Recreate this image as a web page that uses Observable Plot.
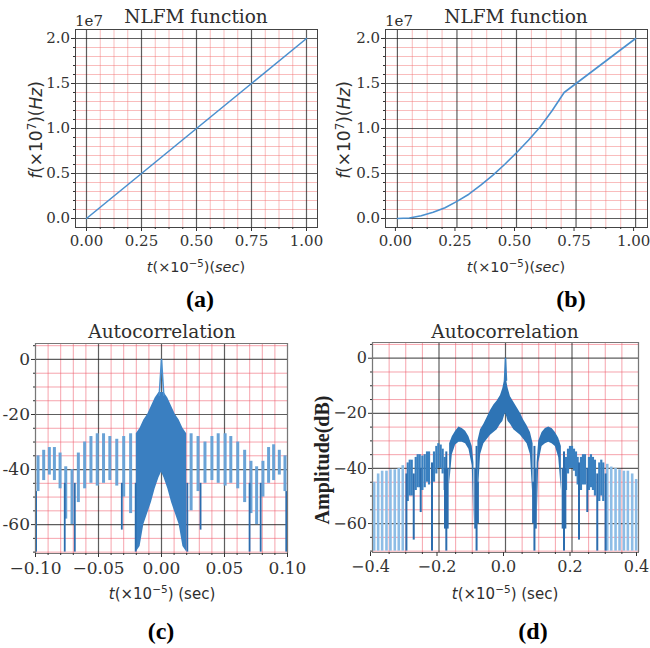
<!DOCTYPE html>
<html><head><meta charset="utf-8">
<script src="https://cdn.jsdelivr.net/npm/d3@7"></script>
<script src="https://cdn.jsdelivr.net/npm/@observablehq/plot@0.6"></script>
<style>
body{margin:0;background:#fff;}
#root{position:relative;width:650px;height:648px;overflow:hidden;background:#fff;}
.p{position:absolute;}
.t{position:absolute;transform:translate(-50%,-50%);white-space:nowrap;color:#2e2e2e;line-height:1;}
.rot{transform:translate(-50%,-50%) rotate(-90deg);}
.ttl{font-family:"DejaVu Serif",serif;font-size:18.5px;}
.lab{font-family:"DejaVu Sans",sans-serif;}
.cap{font-family:"Liberation Serif","Times New Roman",serif;font-weight:bold;font-size:24px;color:#000;}
.amp{font-family:"Liberation Serif","Times New Roman",serif;font-weight:bold;font-size:20px;color:#222;}
.off{position:absolute;transform:translate(0,-50%);font-family:"DejaVu Serif",serif;font-size:15px;color:#2e2e2e;line-height:1;}
sup{font-size:0.7em;vertical-align:0.5em;line-height:0;}
</style></head><body>
<div id="root">
  <div class="t ttl" style="left:196px;top:17px">NLFM function</div>
  <div class="t ttl" style="left:516px;top:17px">NLFM function</div>
  <div class="off" style="left:75px;top:21px">1e7</div>
  <div class="off" style="left:385px;top:21px">1e7</div>
  <div class="t lab rot" style="left:36px;top:130px;font-size:17px"><i>f</i>(×10<sup>7</sup>)(<i>Hz</i>)</div>
  <div class="t lab rot" style="left:344px;top:130px;font-size:17px"><i>f</i>(×10<sup>7</sup>)(<i>Hz</i>)</div>
  <div class="t lab" style="left:196px;top:267px;font-size:14.5px"><i>t</i>(×10<sup>−5</sup>)(<i>sec</i>)</div>
  <div class="t lab" style="left:516px;top:267px;font-size:14.5px"><i>t</i>(×10<sup>−5</sup>)(<i>sec</i>)</div>
  <div class="t cap" style="left:200px;top:299px">(a)</div>
  <div class="t cap" style="left:571px;top:299px">(b)</div>
  <div class="t ttl" style="left:162px;top:332px">Autocorrelation</div>
  <div class="t ttl" style="left:505px;top:332px">Autocorrelation</div>
  <div class="t lab" style="left:162px;top:594px;font-size:15px"><i>t</i>(×10<sup>−5</sup>) (sec)</div>
  <div class="t lab" style="left:505px;top:594px;font-size:15px"><i>t</i>(×10<sup>−5</sup>) (sec)</div>
  <div class="t amp rot" style="left:322px;top:460px">Amplitude(dB)</div>
  <div class="t cap" style="left:161px;top:631px">(c)</div>
  <div class="t cap" style="left:533px;top:631px">(d)</div>
</div>
<script>
// ---------- panel (a): linear FM ----------
const timeA = [0, 0.25, 0.5, 0.75, 1.0];
const freqA = [0, 0.5, 1.0, 1.5, 2.0];
// ---------- panel (b): nonlinear FM ----------
const timeB = [0, 0.05, 0.1, 0.15, 0.2, 0.25, 0.3, 0.35, 0.4, 0.45, 0.5, 0.55, 0.6, 0.65, 0.7, 0.75, 0.8, 0.85, 0.9, 0.95, 1.0];
const freqB = [0, 0.006, 0.03, 0.07, 0.12, 0.19, 0.27, 0.37, 0.48, 0.6, 0.73, 0.87, 1.02, 1.2, 1.4, 1.5, 1.6, 1.7, 1.8, 1.9, 2.0];

// ticks
const xTicksAB = [0, 0.25, 0.5, 0.75, 1.0];
const xMinorAB = [0.0625, 0.125, 0.1875, 0.3125, 0.375, 0.4375, 0.5625, 0.625, 0.6875, 0.8125, 0.875, 0.9375];
const yTicksAB = [0, 0.5, 1.0, 1.5, 2.0];
const yMinorAB = [0.1, 0.2, 0.3, 0.4, 0.6, 0.7, 0.8, 0.9, 1.1, 1.2, 1.3, 1.4, 1.6, 1.7, 1.8, 1.9];
const xTicksC = [-0.1, -0.05, 0, 0.05, 0.1];
const xMinorC = [-0.09, -0.08, -0.07, -0.06, -0.04, -0.03, -0.02, -0.01, 0.01, 0.02, 0.03, 0.04, 0.06, 0.07, 0.08, 0.09];
const xTicksD = [-0.4, -0.2, 0, 0.2, 0.4];
const xMinorD = [-0.35, -0.3, -0.25, -0.15, -0.1, -0.05, 0.05, 0.1, 0.15, 0.25, 0.3, 0.35];
const yTicksCD = [0, -20, -40, -60];
const yMinorCD = [5, -5, -10, -15, -25, -30, -35, -45, -50, -55, -65, -70];

// ---------- panel (c): autocorrelation (dB) ----------
const cBandX  = [-0.02, -0.017, -0.014, -0.011, -0.008, -0.005, -0.002, 0, 0.002, 0.005, 0.008, 0.011, 0.014, 0.017, 0.02];
const cBandHi = [-27, -25, -22, -20, -17, -14, -12, -12, -12, -14, -17, -20, -22, -25, -27];
const cBandLo = [-70, -68, -60, -56, -52, -47, -43, -41, -43, -47, -52, -56, -60, -68, -70];
const cSpikeX = [-0.0018, 0, 0.0018];
const cSpikeY = [-13, 0, -13];
const cBarX   = [-0.098, -0.0935, -0.089, -0.085, -0.0805, -0.076, -0.071, -0.066, -0.061, -0.056, -0.051, -0.046, -0.041, -0.0355, -0.030, -0.0245,
                 0.0235, 0.029, 0.0345, 0.040, 0.045, 0.0505, 0.055, 0.0605, 0.066, 0.071, 0.0755, 0.0805, 0.085, 0.089, 0.0935, 0.098];
const cBarTop = [-35, -33, -32, -32, -34, -39, -40, -34, -30, -28, -27, -27, -28, -29, -28, -27,
                 -27, -28, -30, -28, -27, -27, -28, -30, -33, -37, -39, -37, -32, -31, -33, -35];
const cBarLow = [-48, -44, -42, -44, -47, -58, -60, -52, -47, -45, -46, -45, -44, -46, -50, -56,
                 -55, -48, -45, -44, -45, -46, -45, -47, -52, -56, -60, -50, -45, -44, -42, -48];
const cNullX   = [-0.0995, -0.0768, -0.0688, -0.0315, -0.0205, 0.0205, 0.031, 0.0699, 0.0787, 0.099];
const cNullTop = [-48, -45, -45, -45, -45, -45, -45, -45, -45, -48];
const cNullLow = [-70, -70, -70, -62, -70, -70, -62, -70, -70, -70];

// ---------- panel (d): autocorrelation (dB) ----------
const dCenterX  = [-0.083, -0.075, -0.065, -0.055, -0.045, -0.035, -0.025, -0.015, -0.008, -0.003, 0, 0.003, 0.008, 0.015, 0.025, 0.035, 0.045, 0.055, 0.065, 0.075, 0.083];
const dCenterHi = [-30, -26, -24, -21.5, -19, -17, -15.5, -13.5, -11, -8, -7, -8, -11, -14, -16, -18, -20, -22.5, -24.5, -27, -31];
const dCenterLo = [-52, -35, -31, -29.5, -28, -27, -26, -24, -23, -21, -20, -21, -23, -24, -26, -27, -28, -29.5, -31, -35, -52];
const dSpikeX = [-0.003, 0, 0.003];
const dSpikeY = [-8, 0, -8];
const dLobeLX  = [-0.168, -0.16, -0.15, -0.14, -0.13, -0.12, -0.11, -0.1, -0.095];
const dLobeLHi = [-31, -28.5, -26.5, -25, -25.5, -26.5, -28.5, -32, -38];
const dLobeLLo = [-46, -35, -31.5, -30.5, -30.5, -31, -33, -39, -60];
const dLobeRX  = [0.095, 0.1, 0.11, 0.12, 0.13, 0.14, 0.15, 0.16, 0.168];
const dLobeRHi = [-38, -30, -27, -25.5, -25, -25.5, -27, -29, -32];
const dLobeRLo = [-60, -38, -32, -31, -30.5, -31, -32, -36, -48];
const dNotchX   = [-0.298, -0.276, -0.255, -0.221, -0.182, -0.178, -0.174, -0.091, -0.087, -0.083,
                   0.083, 0.087, 0.091, 0.172, 0.176, 0.18, 0.221, 0.246, 0.276, 0.301];
const dNotchTop = [-42, -42, -40, -38, -40, -34, -40, -40, -32, -45,
                   -45, -32, -40, -40, -34, -40, -38, -40, -42, -42];
const dNotchLow = [-70, -66, -56, -70, -62, -70, -62, -62, -70, -60,
                   -60, -70, -62, -62, -70, -62, -66, -56, -70, -70];
const dBarX   = [-0.294, -0.288, -0.282, -0.27, -0.264, -0.258, -0.25, -0.243, -0.236, -0.23, -0.215, -0.208, -0.202, -0.195, -0.189, -0.183,
                 0.182, 0.188, 0.194, 0.2, 0.206, 0.212, 0.217, 0.227, 0.233, 0.239, 0.251, 0.257, 0.263, 0.269, 0.282, 0.288, 0.294];
const dBarTop = [-38, -37, -37, -36, -35, -35, -35.5, -35, -34, -34, -34, -32, -31, -31.5, -33, -36,
                 -36, -33, -32, -32, -33, -34, -36, -36, -35, -35, -36, -35, -36, -37, -38, -37, -38];
const dBarLow = [-52, -50, -50, -48, -47, -47, -48, -47, -45, -46, -45, -42, -40, -40, -42, -48,
                 -48, -42, -40, -40, -41, -43, -46, -48, -46, -46, -48, -47, -48, -50, -52, -50, -52];
const dStripeX   = [-0.395, -0.383, -0.371, -0.358, -0.346, -0.333, -0.321, -0.309, 0.306, 0.318, 0.331, 0.343, 0.356, 0.368, 0.381, 0.393];
const dStripeTop = [-45, -42, -41, -41, -40.5, -40.5, -40, -39, -38.5, -39.5, -40, -40.5, -41, -41, -42, -44];
const dStripeLow = [-70, -70, -70, -70, -70, -70, -70, -70, -70, -70, -70, -70, -70, -70, -70, -70];

// ---------- helpers ----------
const rows = (keys, ...cols) => cols[0].map((_, i) => Object.fromEntries(keys.map((k, j) => [k, cols[j][i]])));
const minus = (v, d) => (v < 0 ? "\u2212" : "") + Math.abs(v).toFixed(d);

function panel(c) {
  return Plot.plot({
    width: c.w, height: c.h,
    marginTop: c.mt, marginRight: c.mr, marginBottom: c.mb, marginLeft: c.ml,
    x: {domain: c.xd, label: null},
    y: {domain: c.yd, label: null},
    style: {fontFamily: '"DejaVu Serif",serif', fontSize: c.fs + "px", color: "#333", background: "transparent", overflow: "visible"},
    marks: [
      Plot.ruleX(c.xMinor, {x: d => d, stroke: c.minorColor, strokeOpacity: c.minorOpacity, strokeWidth: 1}),
      Plot.ruleY(c.yMinor, {y: d => d, stroke: c.minorColor, strokeOpacity: c.minorOpacity, strokeWidth: 1}),
      Plot.ruleX(c.xMajor, {x: d => d, stroke: "#1a1a1a", strokeOpacity: 0.7, strokeWidth: 1.2}),
      Plot.ruleY(c.yMajor, {y: d => d, stroke: "#1a1a1a", strokeOpacity: 0.7, strokeWidth: 1.2}),
      ...c.marks,
      Plot.frame({stroke: c.frameColor}),
      Plot.axisX({ticks: c.xMajor, tickSize: 4, tickPadding: 4, tickFormat: c.xFmt, label: null, dx: c.xdx || 0}),
      Plot.axisX({ticks: c.xMinor, tickSize: 2, tickFormat: () => "", label: null}),
      Plot.axisY({ticks: c.yMajor, tickSize: 4, tickPadding: 1.5, tickFormat: c.yFmt, label: null}),
      Plot.axisY({ticks: c.yMinor, tickSize: 2, tickFormat: () => "", label: null})
    ]
  });
}

function place(svg, left, top) {
  const div = document.createElement("div");
  div.className = "p";
  div.style.left = left + "px";
  div.style.top = top + "px";
  div.appendChild(svg);
  document.getElementById("root").appendChild(div);
}

const lineBlue = "#4b90cf";

// (a)
place(panel({
  w: 325, h: 260, mt: 29, mr: 8, mb: 33, ml: 75, fs: 15,
  xd: [-0.05, 1.05], yd: [-0.1, 2.1],
  xMajor: xTicksAB, xMinor: xMinorAB, yMajor: yTicksAB, yMinor: yMinorAB,
  xFmt: d => d.toFixed(2), yFmt: d => d.toFixed(1),
  minorColor: "#f26d6d", minorOpacity: 0.45, frameColor: "#444",
  marks: [Plot.line(rows(["t", "f"], timeA, freqA), {x: "t", y: "f", stroke: lineBlue, strokeWidth: 1.6})]
}), 0, 0);

// (b)
place(panel({
  w: 325, h: 260, mt: 29, mr: 3, mb: 33, ml: 60, fs: 15, xdx: -2,
  xd: [-0.05, 1.05], yd: [-0.1, 2.1],
  xMajor: xTicksAB, xMinor: xMinorAB, yMajor: yTicksAB, yMinor: yMinorAB,
  xFmt: d => d.toFixed(2), yFmt: d => d.toFixed(1),
  minorColor: "#f26d6d", minorOpacity: 0.45, frameColor: "#444",
  marks: [Plot.line(rows(["t", "f"], timeB, freqB), {x: "t", y: "f", stroke: lineBlue, strokeWidth: 1.6})]
}), 325, 0);

// (c)
place(panel({
  w: 325, h: 280, mt: 33, mr: 38, mb: 37, ml: 35, fs: 17,
  xd: [-0.1, 0.1], yd: [-70.5, 5.8],
  xMajor: xTicksC, xMinor: xMinorC, yMajor: yTicksCD, yMinor: yMinorCD,
  xFmt: d => minus(d, 2), yFmt: d => String(d),
  minorColor: "#ee5a6a", minorOpacity: 0.55, frameColor: "#777",
  marks: [
    Plot.areaY(rows(["x", "hi", "lo"], cBandX, cBandHi, cBandLo), {x: "x", y1: "lo", y2: "hi", fill: "#3a7fc1"}),
    Plot.ruleX(rows(["x", "top", "low"], cBarX, cBarTop, cBarLow), {x: "x", y1: "low", y2: "top", stroke: "#6aa3d6", strokeWidth: 3}),
    Plot.ruleX(rows(["x", "top", "low"], cNullX, cNullTop, cNullLow), {x: "x", y1: "low", y2: "top", stroke: "#2c6dae", strokeWidth: 1.8}),
    Plot.line(rows(["x", "y"], cSpikeX, cSpikeY), {x: "x", y: "y", stroke: "#4b90cf", strokeWidth: 1.6})
  ]
}), 0, 310);

// (d)
place(panel({
  w: 325, h: 280, mt: 32, mr: 12, mb: 38, ml: 47, fs: 16, xdx: -2,
  xd: [-0.4, 0.4], yd: [-70.5, 5.7],
  xMajor: xTicksD, xMinor: xMinorD, yMajor: yTicksCD, yMinor: yMinorCD,
  xFmt: d => minus(d, 1), yFmt: d => minus(d, 0),
  minorColor: "#ee5a6a", minorOpacity: 0.55, frameColor: "#777",
  marks: [
    Plot.ruleX(rows(["x", "top", "low"], dStripeX, dStripeTop, dStripeLow), {x: "x", y1: "low", y2: "top", stroke: "#8dbde6", strokeWidth: 2.6}),
    Plot.ruleX(rows(["x", "top", "low"], dBarX, dBarTop, dBarLow), {x: "x", y1: "low", y2: "top", stroke: "#3a80c0", strokeWidth: 2.2}),
    Plot.ruleX(rows(["x", "top", "low"], dNotchX, dNotchTop, dNotchLow), {x: "x", y1: "low", y2: "top", stroke: "#2c6dae", strokeWidth: 2}),
    Plot.areaY(rows(["x", "hi", "lo"], dCenterX, dCenterHi, dCenterLo), {x: "x", y1: "lo", y2: "hi", fill: "#2e74b5"}),
    Plot.areaY(rows(["x", "hi", "lo"], dLobeLX, dLobeLHi, dLobeLLo), {x: "x", y1: "lo", y2: "hi", fill: "#2e74b5"}),
    Plot.areaY(rows(["x", "hi", "lo"], dLobeRX, dLobeRHi, dLobeRLo), {x: "x", y1: "lo", y2: "hi", fill: "#2e74b5"}),
    Plot.line(rows(["x", "y"], dSpikeX, dSpikeY), {x: "x", y: "y", stroke: "#3a80c0", strokeWidth: 1.5})
  ]
}), 325, 310);
</script>
</body></html>
